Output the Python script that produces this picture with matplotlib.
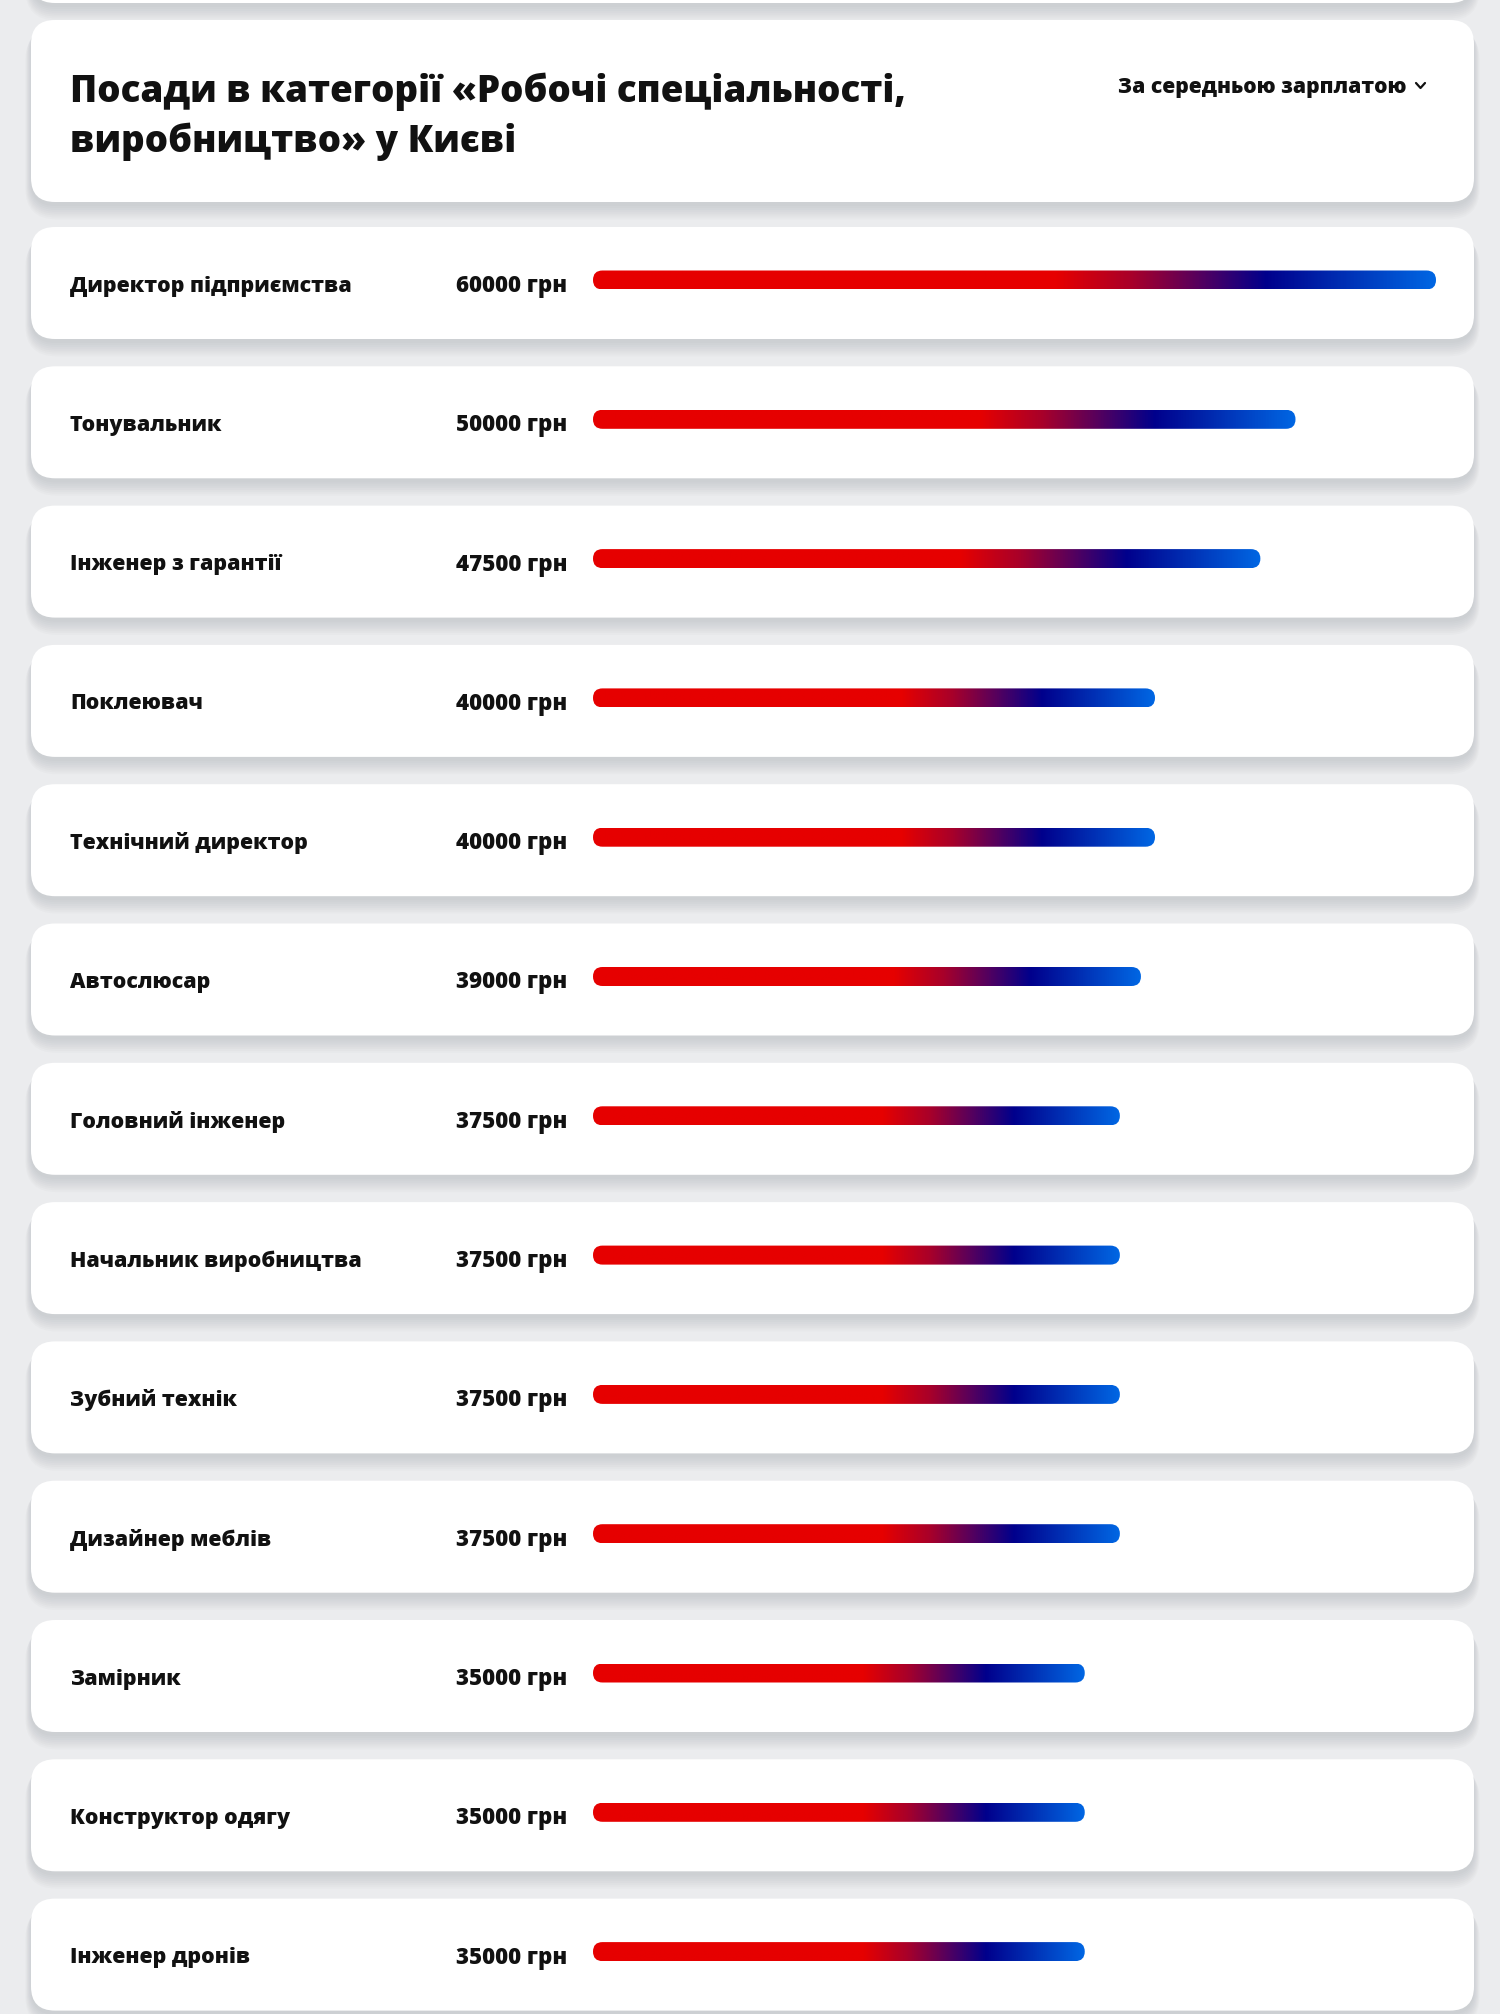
import matplotlib
matplotlib.use("Agg")
import matplotlib.pyplot as plt
import numpy as np
from matplotlib.patches import FancyBboxPatch
from matplotlib.colors import LinearSegmentedColormap

# ---------------- data ----------------
title_lines = ["Посади в категорії «Робочі спеціальності,", "виробництво» у Києві"]
sort_label = "За середньою зарплатою"
positions = [
    "Директор підприємства",
    "Тонувальник",
    "Інженер з гарантії",
    "Поклеювач",
    "Технічний директор",
    "Автослюсар",
    "Головний інженер",
    "Начальник виробництва",
    "Зубний технік",
    "Дизайнер меблів",
    "Замірник",
    "Конструктор одягу",
    "Інженер дронів",
]
salaries = [60000, 50000, 47500, 40000, 40000, 39000, 37500, 37500, 37500, 37500, 35000, 35000, 35000]
currency = "грн"

# ---------------- layout / style ----------------
W, H = 1500, 2014
BG = "#ebecee"
CARD = "#ffffff"
TXT = "#111111"
FONT = ["Open Sans", "DejaVu Sans"]
WEIGHT = 800
card_x0, card_x1 = 31, 1474
radius = 24
row0, pitch = 284.0, 139.3
bar_x0, bar_x1 = 593, 1436
bar_h_px = 19
bar_offset = -4

cmap = LinearSegmentedColormap.from_list(
    "rb",
    [(0.0, "#e60000"), (0.55, "#e60000"), (0.64, "#a8002a"),
     (0.72, "#55005e"), (0.80, "#00008c"), (1.0, "#0066e3")],
)

fig = plt.figure(figsize=(W / 100, H / 100), dpi=100)
fig.patch.set_facecolor(BG)

bg = fig.add_axes([0, 0, 1, 1])
bg.set_xlim(0, W)
bg.set_ylim(H, 0)
bg.axis("off")


def card(y0, y1):
    for k in range(8):
        sh = FancyBboxPatch((card_x0 - k * 0.8, y0 + 4 + k * 0.7), card_x1 - card_x0 + k * 1.6,
                            y1 - y0 + k * 1.2,
                            boxstyle=f"round,pad=0,rounding_size={radius + k}",
                            fc="#8a9098", ec="none", alpha=0.04, zorder=1)
        bg.add_patch(sh)
    bg.add_patch(FancyBboxPatch((card_x0, y0), card_x1 - card_x0, y1 - y0,
                                boxstyle=f"round,pad=0,rounding_size={radius}",
                                fc=CARD, ec="none", zorder=2))


# partial card at top and header card
card(-150, 3)
card(20, 202)
bg.text(70, 102, title_lines[0], fontsize=26.5, fontweight=WEIGHT, color=TXT,
        family=FONT, va="baseline", ha="left", zorder=5)
bg.text(70, 152, title_lines[1], fontsize=26.5, fontweight=WEIGHT, color=TXT,
        family=FONT, va="baseline", ha="left", zorder=5)
bg.text(1406, 87, sort_label, fontsize=15.2, fontweight=WEIGHT, color=TXT,
        family=FONT, va="center", ha="right", zorder=5)
bg.plot([1416, 1420.5, 1425], [83, 88, 83], color=TXT, lw=1.6, zorder=5,
        solid_capstyle="round", solid_joinstyle="round")

# row cards and texts
for i, (name, val) in enumerate(zip(positions, salaries)):
    cy = row0 + i * pitch
    card(cy - 57, cy + 55)
    bg.text(70, cy + 2, name, fontsize=15.4, fontweight=WEIGHT, color=TXT,
            family=FONT, va="center", ha="left", zorder=5)
    bg.text(567, cy + 2, f"{val} {currency}", fontsize=16, fontweight=WEIGHT, color=TXT,
            family=FONT, va="center", ha="right", zorder=5)

# bars axis (salary scale)
xmax = max(salaries)
bx = fig.add_axes([bar_x0 / W, 0, (bar_x1 - bar_x0) / W, 1])
bx.set_xlim(0, xmax)
top_u = -(row0 + bar_offset) / pitch
bot_u = (H - (row0 + bar_offset)) / pitch
bx.set_ylim(bot_u, top_u)
bx.axis("off")
bx.patch.set_alpha(0)

x_per_px = xmax / (bar_x1 - bar_x0)
y_per_px = 1.0 / pitch
bar_h = bar_h_px * y_per_px
aspect = y_per_px / x_per_px
rs = (bar_h / aspect) / 2 * 0.999

grad = np.linspace(0, 1, 512).reshape(1, -1)
for i, val in enumerate(salaries):
    clip = FancyBboxPatch((0, i - bar_h / 2), val, bar_h,
                          boxstyle=f"round,pad=0,rounding_size={rs}",
                          mutation_aspect=aspect, fc="none", ec="none",
                          transform=bx.transData)
    bx.add_patch(clip)
    im = bx.imshow(grad, cmap=cmap, extent=(0, val, i + bar_h / 2, i - bar_h / 2),
                   aspect="auto", interpolation="bilinear", zorder=6)
    im.set_clip_path(clip)

bx.set_xlim(0, xmax)
bx.set_ylim(bot_u, top_u)

fig.savefig("out.png", dpi=100, facecolor=fig.get_facecolor())
